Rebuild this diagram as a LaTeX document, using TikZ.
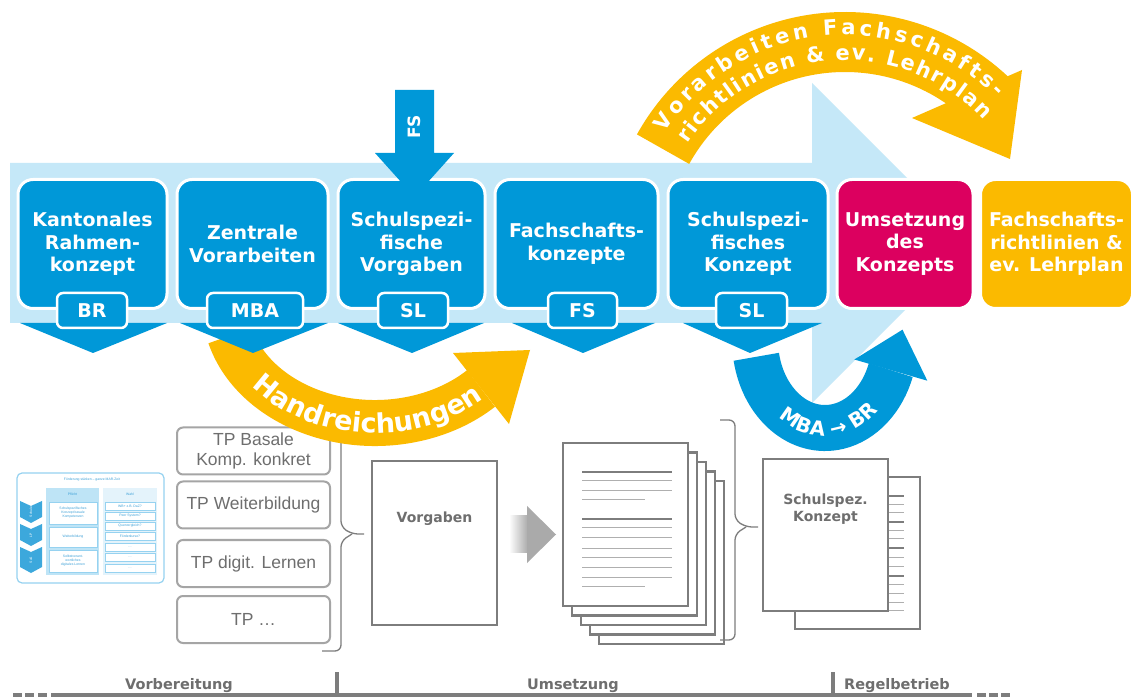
\documentclass[tikz,border=0pt]{standalone}
\usepackage{fontspec}
\setmainfont{Liberation Sans}
\newfontfamily\dv{DejaVu Sans}
\usetikzlibrary{decorations.text}
\definecolor{dblue}{RGB}{0,152,216}
\definecolor{lblue}{RGB}{197,232,248}
\definecolor{mag}{RGB}{220,0,95}
\definecolor{orng}{RGB}{251,186,0}
\definecolor{gline}{RGB}{125,125,125}
\definecolor{gthin}{RGB}{175,175,175}
\definecolor{gtext}{RGB}{110,110,110}
\definecolor{tpline}{RGB}{165,165,165}
\definecolor{agray}{RGB}{170,170,170}
\definecolor{thline}{RGB}{150,210,240}
\definecolor{thfill}{RGB}{190,228,246}
\definecolor{thfill2}{RGB}{228,243,251}
\definecolor{thtext}{RGB}{60,160,215}
\definecolor{thchev}{RGB}{60,168,220}
\newcommand{\arcf}{\dv\bfseries\fontsize{21}{21}\selectfont}
\newcommand{\mbaf}{\dv\bfseries\fontsize{20}{20}\selectfont}
\newcommand{\handf}{\dv\bfseries\fontsize{27}{27}\selectfont}
\begin{document}
\begin{tikzpicture}[x=1pt,y=1pt,
  bigbox/.style={rounded corners=15pt, draw=white, line width=3pt, text=white, align=center,
    font=\dv\bfseries\fontsize{19}{22.5}\selectfont, inner sep=0pt, minimum height=129pt},
  tag/.style={rounded corners=6pt, draw=white, line width=2.5pt, fill=dblue, text=white,
    font=\dv\bfseries\fontsize{19}{19}\selectfont, minimum height=35pt, inner sep=0pt},
  tpbox/.style={rounded corners=6pt, draw=tpline, line width=2pt, fill=white, text=gtext,
    font=\fontsize{17.5}{19.5}\selectfont, align=center, minimum width=153pt, minimum height=47pt, inner sep=0pt},
  page/.style={draw=gline, line width=2.5pt, fill=white},
  tl/.style={text=gtext, font=\dv\bfseries\fontsize{14.5}{14.5}\selectfont},
  pagelbl/.style={text=gtext, align=center, font=\dv\bfseries\fontsize{14}{17}\selectfont},
  thick line/.style={gline, line width=2.5pt},
  thin line/.style={gthin, line width=1pt},
  tiny/.style={text=thtext, align=center, inner sep=0pt, font=\fontsize{3.4}{3.9}\selectfont},
  thbox/.style={draw=thline, line width=0.6pt, fill=white, inner sep=0pt},
  brace/.style={draw=gline, line width=1.3pt, rounded corners=6pt}
]
\useasboundingbox (0,0) rectangle (1136,-700);
\fill[white] (0,0) rectangle (1136,-700);

%% ---------- thumbnail ----------
\draw[rounded corners=5pt, draw=thline, line width=1.2pt, fill=white] (17,-473) rectangle (164,-583);
\node[tiny] (thtitle) at (92,-480) {Förderung stärken -- ganze MAR-Zeit};
\fill[thfill] (46,-488) rectangle (99,-575);
\fill[thfill2] (103,-488) rectangle (157,-575);
\node[tiny] (thp) at (72.5,-494) {Pflicht};
\node[tiny] (thw) at (130,-494) {Wahl};
\node[thbox, minimum width=48pt, minimum height=22pt, tiny] (tp1) at (73,-513) {Schulspezifisches\\Konzept basale\\Kompetenzen};
\node[thbox, minimum width=48pt, minimum height=20pt, tiny] (tp2) at (73,-537) {Weiterbildung};
\node[thbox, minimum width=48pt, minimum height=22pt, tiny] (tp3) at (73,-561) {Selbstverant-\\wortliches\\digitales Lernen};
\node[thbox, minimum width=50pt, minimum height=8pt, tiny] (tw1) at (130,-506) {WB+ z.B. DaZ?};
\node[thbox, minimum width=50pt, minimum height=8pt, tiny] (tw2) at (130,-516) {Peer System?};
\node[thbox, minimum width=50pt, minimum height=8pt, tiny] (tw3) at (130,-526) {Quervergleich?};
\node[thbox, minimum width=50pt, minimum height=8pt, tiny] (tw4) at (130,-536.5) {Förderkurse?};
\node[thbox, minimum width=50pt, minimum height=8pt, tiny] (tw5) at (130,-547) {\dots};
\node[thbox, minimum width=50pt, minimum height=8pt, tiny] (tw6) at (130,-557.5) {\dots};
\node[thbox, minimum width=50pt, minimum height=8pt, tiny] (tw7) at (130,-568) {\dots};
\foreach \t/\b/\lab in {501/523/Schule, 524/546/LP, 547/573/SuS}{
  \fill[thchev] (20,-\t) -- (31,-\t-5) -- (42,-\t) -- (42,-\b+6) -- (31,-\b) -- (20,-\b+6) -- cycle;
  \node[tiny, text=white, rotate=90] (ch\lab) at (31,{-(\t+\b)/2}) {\lab};
}

%% ---------- TP boxes ----------
\node[tpbox] (tpa) at (253.5,-451) {TP Basale\\Komp. konkret};
\node[tpbox] (tpb) at (253.5,-505) {TP Weiterbildung};
\node[tpbox] (tpc) at (253.5,-563.5) {TP digit. Lernen};
\node[tpbox] (tpd) at (253.5,-619.5) {TP \dots};
\draw[brace] (322,-421) -- (341,-421) -- (341,-527) -- (352,-534) -- (364,-534);
\draw[brace] (352,-534) -- (341,-541) -- (341,-651) -- (322,-651);

%% ---------- Vorgaben page ----------
\node[page, minimum width=125pt, minimum height=164pt, inner sep=0pt] (vorg) at (434.5,-543) {};
\node[pagelbl] (vorglbl) at (434.5,-519) {Vorgaben};

%% ---------- gray arrow ----------
\shade[left color=white, right color=agray] (509,-516) rectangle (528,-552);
\fill[agray] (527,-506) -- (556,-534.5) -- (527,-563) -- cycle;

%% ---------- stacked pages ----------
\foreach \k in {4,3,2,1}{
  \draw[page] ({563+9*\k},{-443-9.5*\k}) rectangle ({688+9*\k},{-606-9.5*\k});
}
\node[page, minimum width=125pt, minimum height=163pt, inner sep=0pt] (front) at (625.5,-524.5) {};
\foreach \y in {472,519} \draw[thick line] (582,-\y) -- (672,-\y);
\foreach \y in {481,491,528,538,548,557,567,577} \draw[thin line] (582,-\y) -- (672,-\y);
\foreach \y in {500,586} \draw[thin line] (582,-\y) -- (645,-\y);
\draw[brace] (720,-420) -- (735,-420) -- (735,-520) -- (746,-527) -- (758,-527);
\draw[brace] (746,-527) -- (735,-534) -- (735,-640) -- (720,-640);

%% ---------- Schulspez. Konzept ----------
\draw[page] (795,-477) rectangle (920,-629);
\foreach \y in {496,522,548,576} \draw[thick line] (840,-\y) -- (904,-\y);
\foreach \y in {505,513,531,539,557,566,584,593,602,610} \draw[thin line] (840,-\y) -- (904,-\y);
\node[page, minimum width=125pt, minimum height=152pt, inner sep=0pt] (konz) at (825.5,-535) {};
\node[pagelbl] (konzlbl) at (825.5,-509) {Schulspez.\\Konzept};

%% ---------- timeline ----------
\draw[gline, line width=4pt] (51,-695) -- (972,-695);
\foreach \x in {13,25,38,977,989,1001} \draw[gline, line width=4pt] (\x,-695) -- ++(9,0);
\draw[gline, line width=4pt] (337,-672) -- (337,-697);
\draw[gline, line width=4pt] (833,-672) -- (833,-697);
\node[tl] (t1) at (179,-686) {Vorbereitung};
\node[tl] (t2) at (573,-686) {Umsetzung};
\node[tl] (t3) at (897,-686) {Regelbetrieb};

%% ---------- light blue process arrow ----------
\fill[lblue] (10,-163) -- (812,-163) -- (812,-83) -- (972,-243) -- (812,-403) -- (812,-323) -- (10,-323) -- cycle;

%% ---------- orange top arc ----------
\draw[orng, line width=60pt] (845,-250) ++(151:208pt) arc[start angle=151, end angle=46, radius=208pt];
\fill[orng] (1022,-70) -- (1010,-159) -- (912,-118) -- cycle;
\path[decorate, decoration={text along path, text align=fit to path, text color=white,
  text={|\arcf|Vorarbeiten Fachschafts-}}]
  (845,-250) ++(147:215pt) arc[start angle=147, end angle=45, radius=215pt];
\path[decorate, decoration={text along path, text align=fit to path, text color=white,
  text={|\arcf|richtlinien {\&} ev. Lehrplan}}]
  (845,-250) ++(146:190pt) arc[start angle=146, end angle=43, radius=190pt];

%% ---------- Handreichungen ----------
\draw[orng, line width=46pt] (375,-305) ++(195:150pt and 118pt) arc[start angle=195, end angle=315, x radius=150pt, y radius=118pt];
\fill[orng] (453,-353) -- (530,-350) -- (509,-424) -- cycle;
\path[decorate, decoration={text along path, text align=center, text color=white,
  text={|\handf|Handreichungen}}]
  (375,-305) ++(206:160pt and 128pt) arc[start angle=206, end angle=326, x radius=160pt, y radius=128pt];

%% ---------- MBA -> BR ----------
\draw[dblue, line width=46pt] (825,-340) ++(191:70pt and 88pt) arc[start angle=191, end angle=340, x radius=70pt, y radius=88pt];
\fill[dblue] (854.3,-359.5) -- (902.5,-329.7) -- (927.3,-380.7) -- cycle;
\path[decorate, decoration={text along path, text align=center, text color=white,
  text={|\mbaf|MBA → BR}}]
  (825,-340) ++(198:78pt and 96pt) arc[start angle=198, end angle=348, x radius=78pt, y radius=96pt];

%% ---------- chevrons ----------
\fill[dblue] (20,-323) -- (167,-323) -- (93,-353) -- cycle;
\fill[dblue] (180,-323) -- (328,-323) -- (253,-353) -- cycle;
\fill[dblue] (338,-323) -- (484,-323) -- (412,-353) -- cycle;
\fill[dblue] (512,-323) -- (655,-323) -- (583,-353) -- cycle;
\fill[dblue] (683,-323) -- (822,-323) -- (750,-353) -- cycle;

%% ---------- process boxes ----------
\node[bigbox, fill=dblue, minimum width=149pt] (b1) at (92.5,-244) {Kantonales\\Rahmen-\\konzept};
\node[bigbox, fill=dblue, minimum width=151pt] (b2) at (252.5,-244) {Zentrale\\Vorarbeiten};
\node[bigbox, fill=dblue, minimum width=147pt] (b3) at (411.5,-244) {Schulspezi-\\fische\\Vorgaben};
\node[bigbox, fill=dblue, minimum width=163pt] (b4) at (576.5,-244) {Fachschafts-\\konzepte};
\node[bigbox, fill=dblue, minimum width=160pt] (b5) at (748,-244) {Schulspezi-\\fisches\\Konzept};
\node[bigbox, fill=mag, minimum width=136pt] (b6) at (905,-244) {Umsetzung\\des\\Konzepts};
\node[bigbox, fill=orng, minimum width=152pt] (b7) at (1056.5,-244) {Fachschafts-\\richtlinien \&\\ev. Lehrplan};

%% ---------- role tags ----------
\node[tag, minimum width=70pt] (r1) at (92,-310.5) {BR};
\node[tag, minimum width=96pt] (r2) at (255,-310.5) {MBA};
\node[tag, minimum width=70pt] (r3) at (413,-310.5) {SL};
\node[tag, minimum width=69pt] (r4) at (582.5,-310.5) {FS};
\node[tag, minimum width=71pt] (r5) at (751.5,-310.5) {SL};

%% ---------- FS input arrow ----------
\fill[dblue] (395,-90) -- (434,-90) -- (434,-153) -- (454,-153) -- (414.5,-197) -- (375,-153) -- (395,-153) -- cycle;
\node[rotate=90, text=white, font=\dv\bfseries\fontsize{17}{17}\selectfont] (fslab) at (414.5,-127) {FS};
\end{tikzpicture}
\end{document}
